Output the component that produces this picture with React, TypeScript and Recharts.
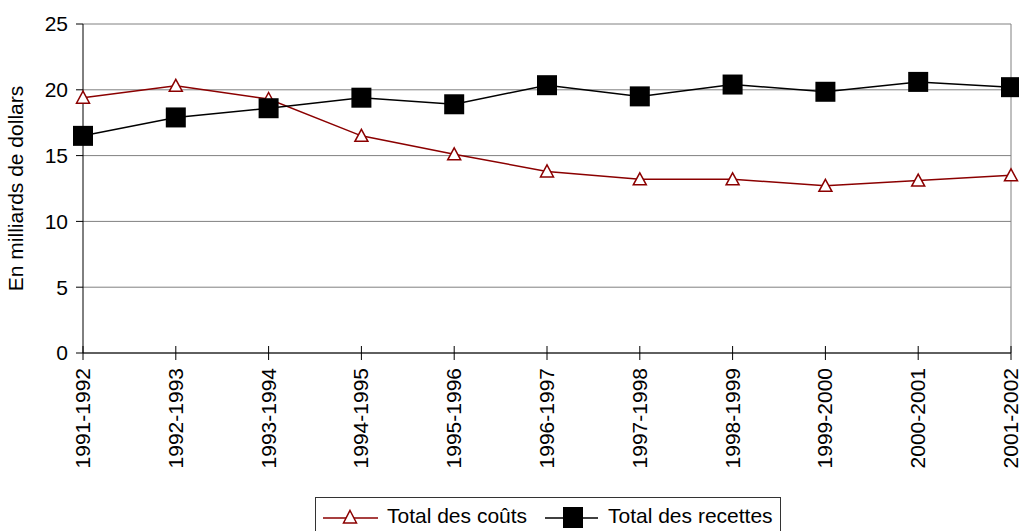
import React from "react";
import {
  LineChart,
  Line,
  XAxis,
  YAxis,
  CartesianGrid,
  ReferenceLine,
  Legend,
} from "recharts";

const years = [
  "1991-1992",
  "1992-1993",
  "1993-1994",
  "1994-1995",
  "1995-1996",
  "1996-1997",
  "1997-1998",
  "1998-1999",
  "1999-2000",
  "2000-2001",
  "2001-2002",
];
const totalCosts = [19.4, 20.3, 19.3, 16.5, 15.1, 13.8, 13.2, 13.2, 12.7, 13.1, 13.5];
const totalRevenues = [16.5, 17.9, 18.6, 19.4, 18.9, 20.35, 19.5, 20.4, 19.85, 20.6, 20.2];
const yTicks = [0, 5, 10, 15, 20, 25];

const data = years.map((year, i) => ({
  year,
  costs: totalCosts[i],
  revenues: totalRevenues[i],
}));

const FONT = "'Liberation Sans', Arial, sans-serif";
const FONT_SIZE = 21;
const COST_COLOR = "#8B0000";

const Triangle = (props: any) => {
  const { cx, cy } = props;
  if (cx == null || cy == null) return null;
  return (
    <polygon
      points={`${cx},${cy - 6.5} ${cx + 6.5},${cy + 5.5} ${cx - 6.5},${cy + 5.5}`}
      fill="#fff"
      stroke={COST_COLOR}
      strokeWidth={1.5}
    />
  );
};

const Square = (props: any) => {
  const { cx, cy } = props;
  if (cx == null || cy == null) return null;
  return <rect x={cx - 10} y={cy - 10} width={20} height={20} fill="#000" />;
};

const XTick = (props: any) => {
  const { x, y, payload } = props;
  return (
    <g>
      <line x1={x} x2={x} y1={y - 7} y2={y + 7} stroke="#000" strokeWidth={1} />
      <text
        transform={`translate(${x + 7},${y + 15}) rotate(-90)`}
        textAnchor="end"
        fontSize={FONT_SIZE}
        fontFamily={FONT}
        fill="#000"
      >
        {payload.value}
      </text>
    </g>
  );
};

const LegendBox = () => (
  <svg width={467} height={34} style={{ display: "block" }}>
    <rect x={0.5} y={0.5} width={465} height={40} fill="#fff" stroke="#333" strokeWidth={1} />
    <line x1={8} x2={63} y1={21} y2={21} stroke={COST_COLOR} strokeWidth={1.5} />
    <polygon points="35,13.5 41.5,26 28.5,26" fill="#fff" stroke={COST_COLOR} strokeWidth={1.5} />
    <text x={72} y={26} fontSize={FONT_SIZE} fontFamily={FONT} fill="#000">
      Total des coûts
    </text>
    <line x1={230} x2={283} y1={21} y2={21} stroke="#000" strokeWidth={1.5} />
    <rect x={248} y={10} width={20} height={21} fill="#000" />
    <text x={293} y={26} fontSize={FONT_SIZE} fontFamily={FONT} fill="#000">
      Total des recettes
    </text>
  </svg>
);

export default function App() {
  return (
    <div style={{ position: "absolute", left: 0, top: 0, width: 1019, height: 531, background: "#fff" }}>
      <LineChart
        width={1019}
        height={531}
        data={data}
        margin={{ top: 24, right: 8, bottom: 0, left: 0 }}
        style={{ fontFamily: FONT }}
      >
        <CartesianGrid vertical={false} stroke="#808080" strokeWidth={1} />
        <ReferenceLine x={years[years.length - 1]} stroke="#808080" strokeWidth={1} />
        <XAxis
          dataKey="year"
          height={144}
          interval={0}
          tickSize={0}
          tickMargin={0}
          tick={<XTick />}
          axisLine={{ stroke: "#000", strokeWidth: 1 }}
          tickLine={false}
        />
        <YAxis
          domain={[0, 25]}
          ticks={yTicks}
          width={83}
          tickSize={7}
          tickMargin={8}
          interval={0}
          axisLine={{ stroke: "#000", strokeWidth: 1 }}
          tickLine={{ stroke: "#000" }}
          tick={{ fontSize: FONT_SIZE, fill: "#000", fontFamily: FONT }}
          label={{
            value: "En milliards de dollars",
            angle: -90,
            position: "insideLeft",
            offset: 16,
            style: { fontSize: FONT_SIZE, fill: "#000", fontFamily: FONT, textAnchor: "middle" },
          }}
        />
        <Legend
          content={<LegendBox />}
          wrapperStyle={{ position: "absolute", left: 315, top: 497, width: 467, height: 34 }}
        />
        <Line
          dataKey="costs"
          name="Total des coûts"
          stroke={COST_COLOR}
          strokeWidth={1.5}
          dot={<Triangle />}
          activeDot={false}
          isAnimationActive={false}
        />
        <Line
          dataKey="revenues"
          name="Total des recettes"
          stroke="#000"
          strokeWidth={1.5}
          dot={<Square />}
          activeDot={false}
          isAnimationActive={false}
        />
      </LineChart>
    </div>
  );
}
